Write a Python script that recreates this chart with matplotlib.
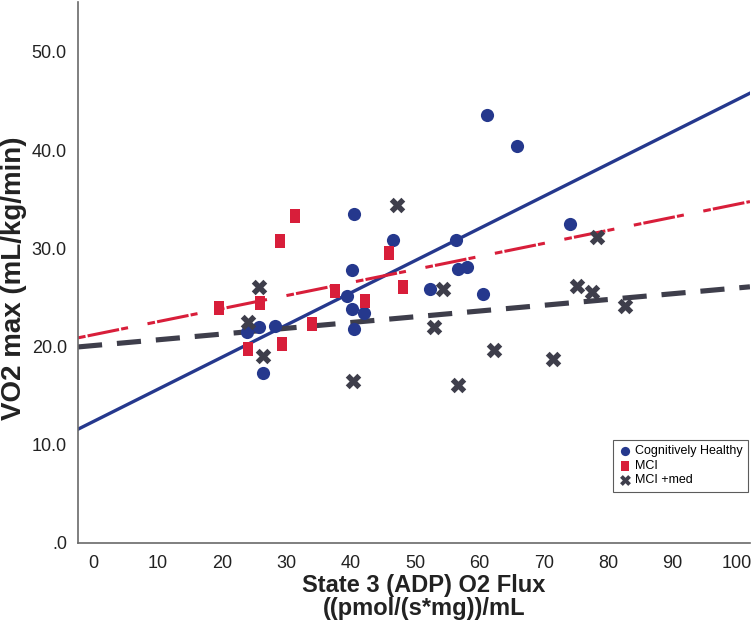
import numpy as np
import matplotlib
matplotlib.use("Agg")
import matplotlib.pyplot as plt
from matplotlib.path import Path

plt.rcParams['font.family'] = ['Liberation Sans', 'DejaVu Sans']

# data
healthy_x = [40.5, 46.5, 40.2, 39.4, 40.2, 42.0, 40.5, 23.9, 25.8, 28.3, 26.4,
             61.2, 65.9, 56.4, 56.6, 58.1, 74.0, 52.3, 60.6]
healthy_y = [33.5, 30.9, 27.8, 25.2, 23.8, 23.4, 21.8, 21.5, 22.0, 22.1, 17.3,
             43.6, 40.4, 30.9, 27.9, 28.1, 32.5, 25.9, 25.4]

mci_x = [31.4, 29.1, 19.6, 25.9, 37.6, 42.2, 34.0, 24.1, 29.3, 46.0, 48.1]
mci_y = [33.3, 30.8, 23.9, 24.4, 25.7, 24.6, 22.3, 19.8, 20.3, 29.5, 26.1]

med_x = [25.8, 24.1, 26.4, 40.4, 47.2, 54.3, 53.0, 56.6, 62.2, 71.4,
         75.1, 77.4, 78.2, 82.6]
med_y = [26.1, 22.5, 19.0, 16.5, 34.4, 25.9, 22.0, 16.1, 19.7, 18.7,
         26.2, 25.6, 31.2, 24.1]

# fit lines as drawn (intercept, slope)
fit_healthy = (12.35, 0.328)
fit_mci = (21.2, 0.133)
fit_med = (20.1, 0.0587)

blue = '#25388d'
red = '#d81e3a'
grey = '#3e3e4b'

rect = Path([(-0.38, -0.5), (0.38, -0.5), (0.38, 0.5), (-0.38, 0.5), (-0.38, -0.5)],
            [Path.MOVETO, Path.LINETO, Path.LINETO, Path.LINETO, Path.CLOSEPOLY])

fig = plt.figure(figsize=(7.56, 6.37), dpi=100)
ax = fig.add_axes([0.1032, 0.1476, 0.8888, 0.8494])

xl = (-2.33, 102.0)
xs = np.array(xl)

ax.plot(xs, fit_healthy[0] + fit_healthy[1] * xs, color=blue, lw=2.4, zorder=2)
ax.plot(xs, fit_mci[0] + fit_mci[1] * xs, color=red, lw=2.2,
        dashes=(2.5, 0.7, 10.5, 0.7, 2.3, 6.5), zorder=2)
ax.plot(xs, fit_med[0] + fit_med[1] * xs, color=grey, lw=3.7,
        dashes=(4.7, 2.9), zorder=2)

ax.scatter(healthy_x, healthy_y, s=90, marker='o', color=blue, lw=0, zorder=3,
           label='Cognitively Healthy')
ax.scatter(mci_x, mci_y, s=105, marker=rect, color=red, lw=0, zorder=3,
           label='MCI')
ax.scatter(med_x, med_y, s=125, marker='X', color=grey, lw=0, zorder=3,
           label='MCI +med')

ax.set_xlim(*xl)
ax.set_ylim(0, 55.1)
ax.set_xticks(range(0, 101, 10))
ax.set_yticks(range(0, 51, 10))
ax.set_yticklabels(['.0', '10.0', '20.0', '30.0', '40.0', '50.0'])
ax.tick_params(length=0, labelsize=13, colors='#222222', pad=8)
ax.tick_params(axis='x', pad=9)

for s in ['top', 'right']:
    ax.spines[s].set_visible(False)
for s in ['left', 'bottom']:
    ax.spines[s].set_color('#6a6a6a')
    ax.spines[s].set_linewidth(1.2)

ax.set_xlabel('State 3 (ADP) O2 Flux\n((pmol/(s*mg))/mL', fontsize=17,
              fontweight='bold', labelpad=5, linespacing=1.0, color='#222222')
ax.set_ylabel('VO2 max (mL/kg/min)', fontsize=20, fontweight='bold',
              color='#222222')
ax.xaxis.set_label_coords(0.515, -0.058, transform=ax.transAxes)
ax.yaxis.set_label_coords(-0.076, 0.49, transform=ax.transAxes)
ax.xaxis.label.set_va('top')

leg = ax.legend(loc='lower right', bbox_to_anchor=(0.997, 0.094), fontsize=9,
                frameon=True, fancybox=False, borderpad=0.45, handletextpad=0.25,
                handlelength=1.0, labelspacing=0.2, markerscale=0.7,
                borderaxespad=0)
leg.get_frame().set_edgecolor('#333333')
leg.get_frame().set_linewidth(0.8)

fig.savefig('out.png', dpi=100)
